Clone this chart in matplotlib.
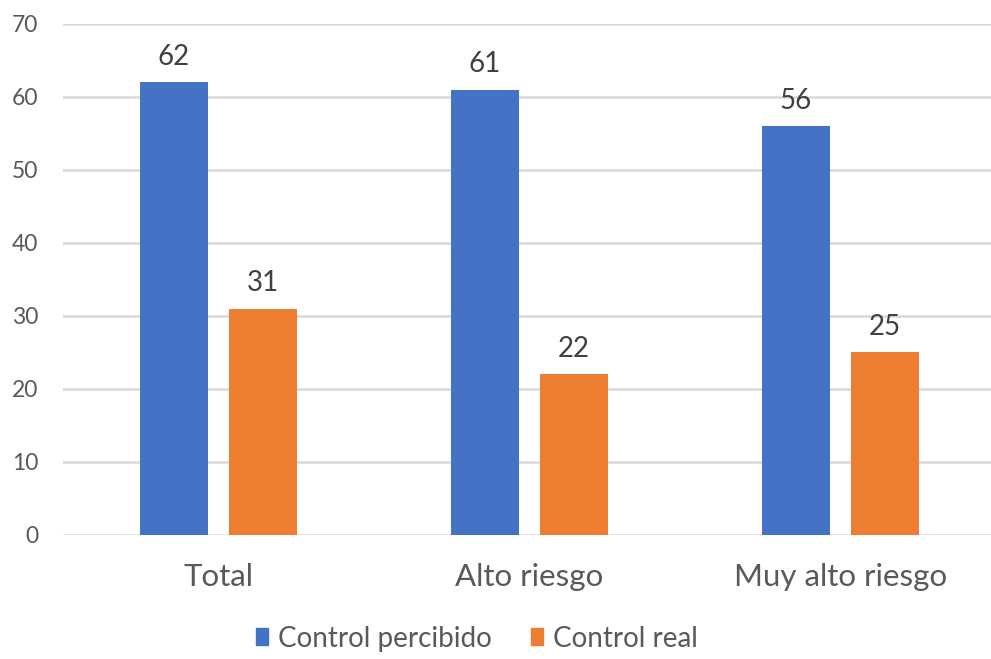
import matplotlib.pyplot as plt
import numpy as np
from matplotlib.patches import Patch

categorias = ['Total', 'Alto riesgo', 'Muy alto riesgo']
control_percibido = [62, 61, 56]
control_real = [31, 22, 25]

azul = '#4472C4'
naranja = '#ED7D31'
gris = '#595959'

plt.rcParams['font.family'] = ['Lato', 'DejaVu Sans']

fig = plt.figure(figsize=(9.91, 6.59), dpi=100)
ax = fig.add_axes([0.0636, 0.1882, 0.9415, 0.7754])

x = np.arange(len(categorias))
ancho = 0.219
desp = 0.143

b1 = ax.bar(x - desp, control_percibido, ancho, color=azul, zorder=3)
b2 = ax.bar(x + desp, control_real, ancho, color=naranja, zorder=3)

for barras in (b1, b2):
    for b in barras:
        ax.annotate(f'{b.get_height():.0f}', (b.get_x() + b.get_width() / 2, b.get_height()),
                    xytext=(0, 9), textcoords='offset points', ha='center', va='bottom',
                    fontsize=20, color='#404040')

ax.set_xlim(-0.5, 2.5)
ax.set_ylim(0, 70)
ax.set_yticks(range(0, 71, 10))
ax.yaxis.grid(True, color='#d9d9d9', linewidth=1.8, zorder=0)
ax.set_xticks(x)
ax.set_xticklabels(categorias, fontsize=22.5, color=gris)
ax.tick_params(axis='x', length=0, pad=20)
ax.tick_params(axis='y', length=0, pad=18, labelsize=16.5, labelcolor=gris)
for s in ax.spines.values():
    s.set_visible(False)

handles = [Patch(color=azul, label='Control percibido'), Patch(color=naranja, label='Control real')]
fig.legend(handles=handles, loc='center', bbox_to_anchor=(0.481, 0.031), ncol=2, frameon=False,
           fontsize=20, labelcolor=gris, handlelength=0.45, handleheight=0.55, handletextpad=0.35,
           columnspacing=1.4)

fig.savefig('out.png', dpi=100)
